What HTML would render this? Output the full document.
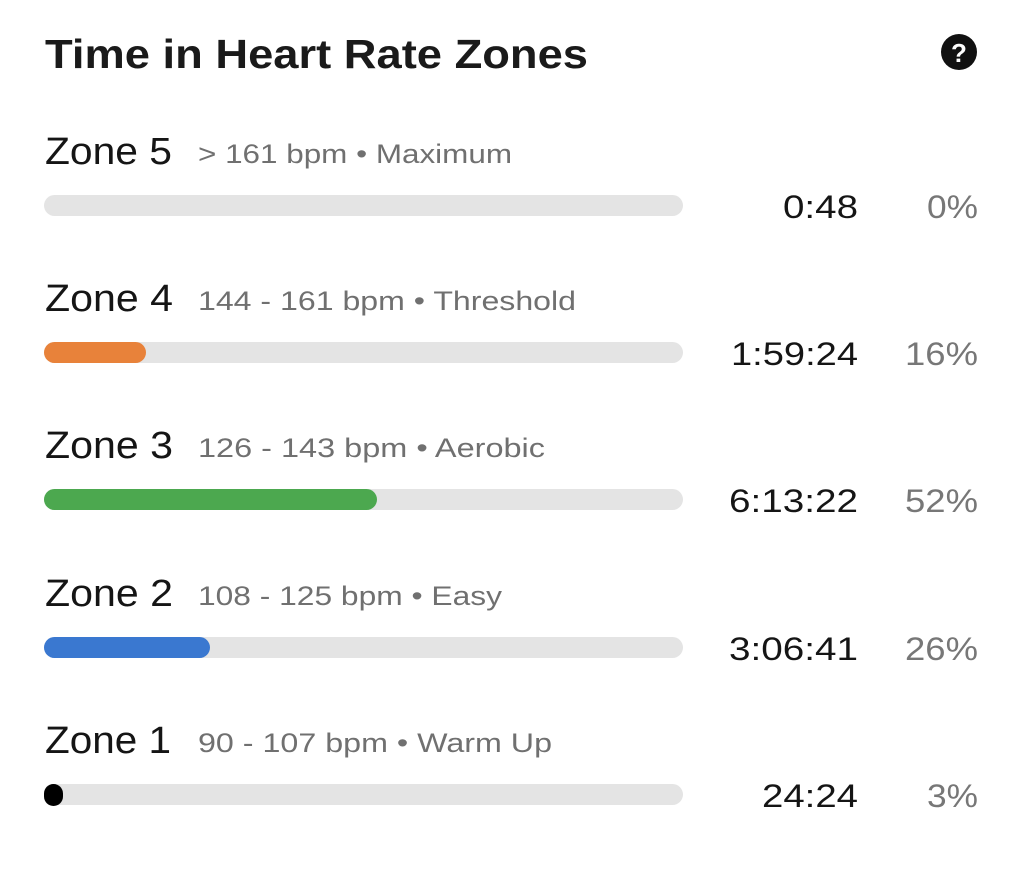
<!DOCTYPE html>
<html><head><meta charset="utf-8"><style>
html,body{margin:0;padding:0;background:#fff;}
svg{display:block;}
text{font-family:"Liberation Sans",sans-serif;}
</style></head><body>
<svg width="1024" height="869" viewBox="0 0 1024 869">
<text x="45" y="68" font-size="41" font-weight="bold" fill="#1a1a1a" textLength="543" lengthAdjust="spacingAndGlyphs">Time in Heart Rate Zones</text>
<circle cx="959" cy="52" r="18" fill="#111"/>
<text x="959" y="62" font-size="26" font-weight="bold" fill="#fff" text-anchor="middle">?</text>

<g>
<text x="45" y="164" font-size="38" fill="#151515" textLength="127" lengthAdjust="spacingAndGlyphs">Zone 5</text>
<text x="198" y="163" font-size="27" fill="#707070" textLength="314" lengthAdjust="spacingAndGlyphs">&gt; 161 bpm • Maximum</text>
<rect x="44" y="195" width="639" height="21" rx="10.5" fill="#e4e4e4"/>
<text x="783" y="218" font-size="32" fill="#151515" textLength="75" lengthAdjust="spacingAndGlyphs">0:48</text>
<text x="927" y="218" font-size="32" fill="#777" textLength="51" lengthAdjust="spacingAndGlyphs">0%</text>
</g>

<g>
<text x="45" y="311" font-size="38" fill="#151515" textLength="128" lengthAdjust="spacingAndGlyphs">Zone 4</text>
<text x="198" y="310" font-size="27" fill="#707070" textLength="378" lengthAdjust="spacingAndGlyphs">144 - 161 bpm • Threshold</text>
<rect x="44" y="342" width="639" height="21" rx="10.5" fill="#e4e4e4"/>
<rect x="44" y="342" width="102" height="21" rx="10.5" fill="#e8823a"/>
<text x="731" y="365" font-size="32" fill="#151515" textLength="127" lengthAdjust="spacingAndGlyphs">1:59:24</text>
<text x="905" y="365" font-size="32" fill="#777" textLength="73" lengthAdjust="spacingAndGlyphs">16%</text>
</g>

<g>
<text x="45" y="458" font-size="38" fill="#151515" textLength="128" lengthAdjust="spacingAndGlyphs">Zone 3</text>
<text x="198" y="457" font-size="27" fill="#707070" textLength="347" lengthAdjust="spacingAndGlyphs">126 - 143 bpm • Aerobic</text>
<rect x="44" y="489" width="639" height="21" rx="10.5" fill="#e4e4e4"/>
<rect x="44" y="489" width="333" height="21" rx="10.5" fill="#4ca84f"/>
<text x="729" y="512" font-size="32" fill="#151515" textLength="129" lengthAdjust="spacingAndGlyphs">6:13:22</text>
<text x="905" y="512" font-size="32" fill="#777" textLength="73" lengthAdjust="spacingAndGlyphs">52%</text>
</g>

<g>
<text x="45" y="606" font-size="38" fill="#151515" textLength="128" lengthAdjust="spacingAndGlyphs">Zone 2</text>
<text x="198" y="605" font-size="27" fill="#707070" textLength="304" lengthAdjust="spacingAndGlyphs">108 - 125 bpm • Easy</text>
<rect x="44" y="637" width="639" height="21" rx="10.5" fill="#e4e4e4"/>
<rect x="44" y="637" width="166" height="21" rx="10.5" fill="#3a78d0"/>
<text x="729" y="660" font-size="32" fill="#151515" textLength="129" lengthAdjust="spacingAndGlyphs">3:06:41</text>
<text x="905" y="660" font-size="32" fill="#777" textLength="73" lengthAdjust="spacingAndGlyphs">26%</text>
</g>

<g>
<text x="45" y="753" font-size="38" fill="#151515" textLength="126" lengthAdjust="spacingAndGlyphs">Zone 1</text>
<text x="198" y="752" font-size="27" fill="#707070" textLength="354" lengthAdjust="spacingAndGlyphs">90 - 107 bpm • Warm Up</text>
<rect x="44" y="784" width="639" height="21" rx="10.5" fill="#e4e4e4"/>
<rect x="44" y="784" width="19" height="22" rx="9.5" fill="#000"/>
<text x="762" y="807" font-size="32" fill="#151515" textLength="96" lengthAdjust="spacingAndGlyphs">24:24</text>
<text x="927" y="807" font-size="32" fill="#777" textLength="51" lengthAdjust="spacingAndGlyphs">3%</text>
</g>
</svg>
</body></html>
